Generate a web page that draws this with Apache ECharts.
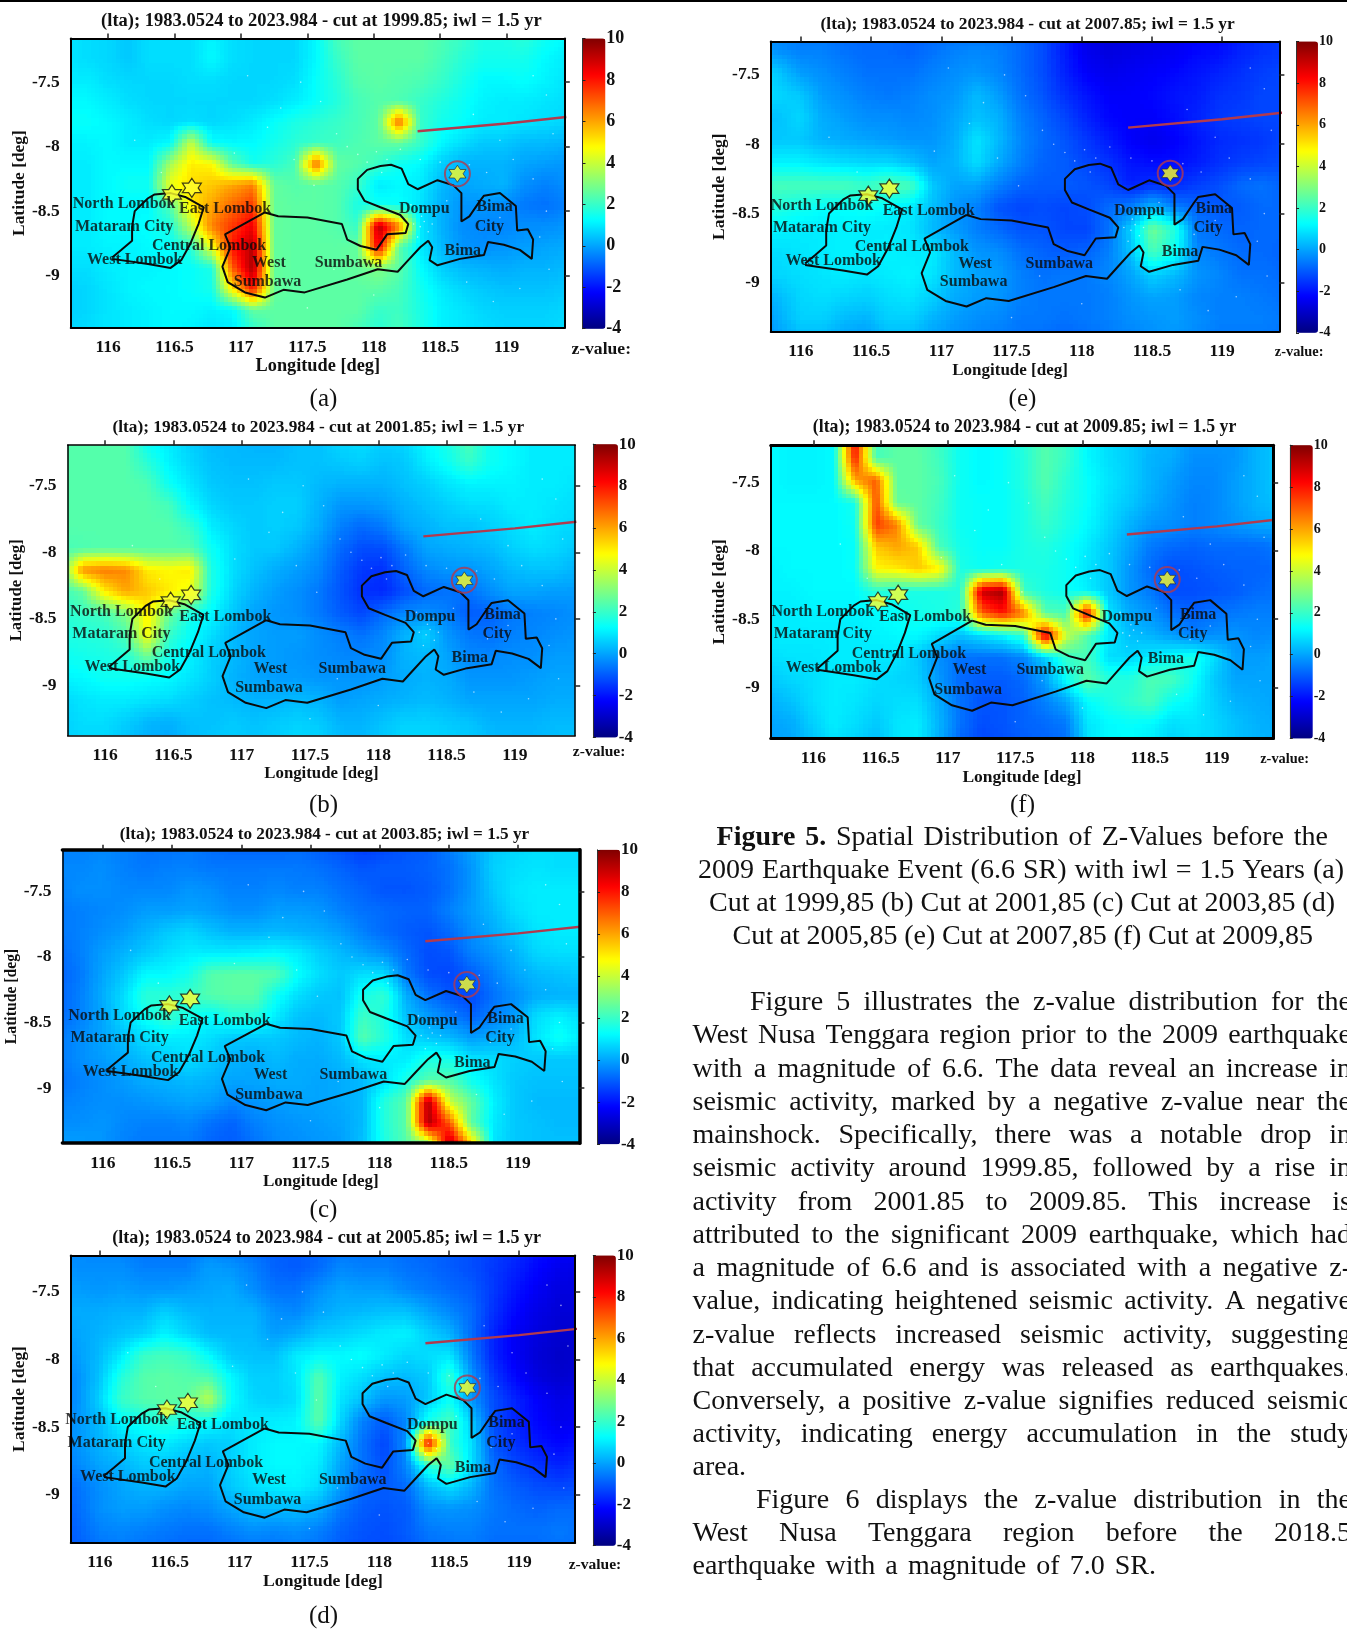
<!DOCTYPE html>
<html><head><meta charset="utf-8">
<style>html,body{margin:0;background:#fff}#c{width:1347px;height:1631px}</style>
<script src="https://cdn.jsdelivr.net/npm/echarts@6/dist/echarts.min.js"></script>
</head><body><div id="c"></div>
<script>
// ---------- data ----------
const lonNodes=[115.68,115.837,115.994,116.151,116.308,116.465,116.622,116.779,116.936,117.093,117.25,117.407,117.564,117.721,117.878,118.035,118.192,118.349,118.506,118.663,118.82,118.977,119.134,119.291,119.448];
const latNodes=[-7.16,-7.322,-7.484,-7.646,-7.808,-7.97,-8.132,-8.294,-8.456,-8.618,-8.78,-8.942,-9.104,-9.266,-9.428];
const lonTicks=[116,116.5,117,117.5,118,118.5,119];
const latTicks=[-7.5,-8,-8.5,-9];
const zA=[
[.9,.8,.7,.5,.8,.8,.8,1.1,.8,.7,.7,.7,1.2,2.2,2.5,2.5,2.5,2.5,2.3,2,1.6,1.6,1.8,1.4,1.2],
[.9,.8,.7,.5,.8,.8,.8,1.2,.8,.7,.7,.7,1.2,2,2.5,2.5,2.5,2.5,2.2,1.8,1.5,1.5,1.5,1.2,1],
[1,1,.8,.7,.7,.7,.8,.8,.7,.7,.7,.8,1.3,1.8,2.4,2.5,2.4,2.3,2,1.6,1.2,1.2,1.3,1.1,.9],
[1.2,1.2,1,.8,.7,.7,.7,.7,.7,.7,.8,1,1.3,1.7,2.2,2.4,2.3,2,1.7,1.4,1.1,1,1,.9,.8],
[1.3,1.3,1.2,1,.8,.7,.8,.7,.8,1,1.3,1.6,1.8,2,2.2,2.5,7,2,1.5,1.3,1,1,.9,.8,.7],
[1.1,1.1,1.2,1,1,1.2,4,1.3,1.2,1.2,1.5,1.8,2,2.1,2.3,2.5,2.6,2,1.2,.8,.5,.5,.3,.3,.2],
[1,1,1.2,1.2,1.2,3.5,5,4.8,2.5,1.5,1.8,2.2,7,2.6,2.4,2,1.4,1.2,.6,.2,.2,.2,0,-.1,-.2],
[1,1,1.2,1.4,1.4,4.5,5.2,5.5,6,6.5,2.6,2.4,2.5,2.4,2,1,1.2,1,.3,0,.1,.2,-.3,-.5,-.3],
[1,1,1.2,1.2,1.2,2.4,5,6,6.8,7.5,2.6,2.5,2.5,2.4,1.6,1.4,1.3,.9,.2,-.2,-.2,-.3,-.6,-.7,-.5],
[1,1,1.2,1.2,1.3,1.6,3.8,6.5,7.5,8.5,2.6,2.5,2.5,2.4,2,9.3,6.5,1,.2,-.3,-.4,-.4,-.3,-.3,-.2],
[1,1,1.1,1.1,1.2,1.3,1.8,4.5,8,9.3,2.6,2.5,2.5,2.5,2.6,8.5,2.5,1,.3,-.2,-.3,-.2,-.1,0,.1],
[.8,.8,1,1.1,1.1,1.2,1.3,1.6,7,9.5,2.6,2.5,2.5,2.5,2.6,3,2.5,1.3,.6,.3,.2,.1,.2,.2,.3],
[.6,.7,.9,1.1,1.2,1.2,1.3,1.5,5,8,2.6,2.5,2.5,2.5,2.5,2.5,2.2,1.5,1,.7,.5,.4,.4,.4,.5],
[.6,.7,.9,1,1.1,1.2,1.2,1.1,1.2,2.6,2.5,2.5,2.5,2.5,2.5,2,2.1,1.6,1.1,.9,.7,.6,.6,.6,.7],
[.7,.8,.9,1,1.1,1.2,1.1,.9,1,1.8,2.5,2.5,2.5,2.5,2.2,1.8,2.2,1.6,1.1,.9,.8,.7,.7,.7,.8]];
const zB=[
[2.4,2.4,2.4,2.4,1.3,1,.6,.3,.3,.2,.2,.4,.4,.7,.8,.6,.7,1.2,1.6,2.3,1.4,1.2,1,1,1],
[2.4,2.4,2.4,2.4,1.8,1.1,.7,.4,.3,.3,.3,.4,.4,.5,.6,.4,.5,1,1.4,2,1.4,1.2,1,1,1],
[2.4,2.4,2.4,2.4,2.3,1.4,.9,.5,.4,.4,.5,.5,.3,.2,.2,.2,.4,.6,.9,1.1,1.1,1.1,1,1,.9],
[2.4,2.4,2.4,2.4,2.4,2.2,1.2,.7,.5,.5,.6,.6,.2,-.2,-.2,-.1,.2,.4,.6,.8,.8,1,1,.9,.8],
[2.4,2.4,2.4,2.4,2.4,2.4,2,1,.7,.5,.6,.5,.1,-.5,-.8,-.6,0,.2,.4,.4,.6,.8,1,.8,.7],
[2.2,2.3,2.4,2.4,2.4,2.4,2.4,1.4,.8,.5,.5,.2,-.2,-.8,-1.2,-1.2,-.6,0,.1,.2,.3,.6,.8,.7,.5],
[2.4,6.3,6.6,6.4,5,4.8,5,1.6,.8,.4,.1,-.1,-.4,-1,-1.5,-1.6,-.9,-.4,-.2,-.2,0,.3,.4,.4,.2],
[2,2.6,5,6,5.5,5,4.5,1.6,.7,.2,-.1,-.3,-.6,-1.1,-1.6,-1.7,-1.2,-.8,-.7,-.7,-.3,0,0,-.1,-.1],
[1.8,2,2.2,3,5,2.8,1.6,1.2,.5,0,-.2,-.3,-.6,-1,-1.3,-.8,-.4,-.3,-.5,-1,-.9,-.6,-.5,-.4,-.3],
[1.6,1.7,1.8,2.3,4.8,2,1.3,.8,.3,0,-.1,-.1,-.3,-.5,-.7,-.4,.2,.6,-.2,-.6,-.7,-.5,-.4,-.3,-.2],
[1.4,1.5,1.6,1.7,2.8,1.5,1.1,.6,.3,0,-.1,-.2,-.3,-.4,-.4,-.3,.2,.3,0,-.4,-.4,-.3,-.3,-.1,-.1],
[1.1,1.2,1.4,1.4,1.3,1.2,.9,.6,.2,0,-.1,-.1,-.2,-.2,-.2,-.1,.1,.2,.1,-.2,-.2,-.2,-.1,0,0],
[.7,.9,1,1,.9,.8,.6,.4,.3,.2,.2,.3,.2,-.1,0,.1,.2,.3,.2,0,0,0,0,.1,.1],
[.6,.8,.8,.6,.3,.2,.4,.4,.5,.4,.5,.6,.5,.2,.2,.4,.6,.6,.5,.4,.2,.2,.2,.3,.3],
[.6,.7,.7,.4,.1,0,.3,.5,.6,.5,.6,.8,.7,.4,.3,.6,.8,.8,.7,.6,.4,.3,.3,.4,.5]];
const zC=[
[-.5,-.5,-.4,-.5,-.7,-.7,-.6,-.8,-.9,-.9,-.9,-.8,-1,-1.2,-1.5,-1.3,-1.1,-1,-.5,0,.5,.7,.8,.8,.8],
[-.4,-.4,-.3,-.5,-.6,-.5,-.5,-.6,-.6,-.6,-.6,-.6,-.7,-.9,-1.1,-1,-1,-.9,-.7,-.2,.6,.8,.9,.8,.8],
[-.5,-.3,-.3,-.4,-.4,-.4,-.2,-.3,-.5,-.5,-.4,-.5,-.5,-.7,-.9,-1.1,-1.1,-1,-.7,-.2,.5,.9,1,1,1],
[-.6,-.5,-.4,-.3,-.1,-.1,0,-.1,-.3,-.3,-.1,-.1,-.2,-.5,-.7,-.8,-.9,-.9,-.5,-.1,.3,.8,1,1,1],
[-.6,-.5,-.3,-.1,.2,.5,.7,.4,.2,.2,.3,.2,.1,-.1,-.5,-.8,-1,-1.1,-.8,-.3,.1,.5,.9,1,1],
[-.8,-.5,-.1,.2,.5,.8,1,1,1,1.1,1.2,1,.6,.3,0,-.3,-.8,-1.2,-1.1,-.5,-.2,.2,.7,.8,.8],
[-.9,-.6,0,.5,1.2,1.2,1.5,2.4,2.5,2.5,2.4,1.3,.8,.5,.8,.8,-.6,-1.2,-1.3,-1,-.5,0,.3,.4,.5],
[-.9,-.5,.1,.8,1.8,1.8,2,2.4,2.5,2.5,1.4,.8,.5,.4,1.5,1.9,.1,-.7,-1.1,-1.3,-.7,-.3,.1,.2,.2],
[-.8,-.5,0,.8,1.4,2,1.5,1.2,1.7,1.7,1,.4,.3,.5,2.1,1.6,.4,-.1,-.5,-.9,-.5,-.1,.8,1.1,.8],
[-.6,-.3,0,.4,.8,1,1,.8,.5,.5,.5,.3,.2,.5,2.4,1.7,.8,.5,.3,-.1,.1,.3,.9,1.4,1],
[-.6,-.3,-.1,.1,.4,.6,.8,.5,.2,.1,.3,.1,.1,.3,.9,1,1,1.6,1.5,.9,.8,.6,.5,.5,.5],
[-.7,-.5,-.3,-.1,.1,.2,.3,.2,0,0,.1,.1,0,.1,.3,.8,1.6,2.4,2.4,1.4,.9,.5,.4,.4,.4],
[-.5,-.4,-.3,-.3,-.2,-.1,0,-.1,-.4,-.2,-.1,0,0,.1,.3,1.7,2.5,9.5,4,2.6,1.1,.5,.3,.3,.3],
[-.3,-.3,-.2,-.4,-.5,-.5,-.4,-.7,-.9,-.5,-.3,-.2,-.1,0,.3,1.7,2.5,9.5,7,2.5,1,.5,.4,.3,.3],
[-.1,-.1,-.2,-.5,-.6,-.6,-.6,-.9,-1,-.7,-.4,-.3,-.2,-.1,.4,1.6,2.4,3,9.5,5.5,.9,.5,.4,.4,.4]];
const zD=[
[-.4,-.4,-.5,-.5,-.7,-.7,-.7,-.5,-.7,-.8,-1,-1,-.9,-.7,-.7,-.7,-.8,-.9,-1,-1.2,-1.4,-1.6,-2,-2.2,-2.3],
[-.2,-.3,-.3,-.3,-.5,-.5,-.5,-.1,-.2,-.5,-.9,-1,-.8,-.4,-.5,-.5,-.7,-.8,-1,-1.2,-1.5,-1.8,-2.2,-2.5,-2.6],
[-.1,-.1,-.2,-.1,-.2,-.2,-.1,0,.1,-.3,-.7,-.7,-.3,0,-.1,-.1,-.4,-.6,-.8,-1,-1.5,-2,-2.4,-2.7,-2.7],
[0,.1,.1,.2,.2,.6,.3,.2,.2,.2,-.3,-.4,0,.2,.3,.4,.4,0,-.4,-.8,-1.6,-2.2,-2.6,-2.8,-2.8],
[-.1,0,.2,.4,.6,1.1,.7,.3,.3,.3,-.1,.1,.5,.6,.8,1,1.1,.6,.2,-.8,-1.8,-2.4,-2.7,-2.9,-2.9],
[-.3,-.1,.3,1,2,2.2,2,1.2,.5,.4,.4,1,1.2,1.2,1.3,1,.7,.8,.9,-.6,-1.8,-2.4,-2.8,-3,-2.9],
[-.5,-.3,.4,1.7,2.4,2.5,2.4,2.3,1.2,.6,.6,.9,2.4,1.1,.8,.4,.3,.5,2,-.2,-1.5,-2.2,-2.7,-2.9,-2.8],
[-.6,-.3,.6,2,2.4,2.5,2.5,3.8,1.3,.7,.6,.8,2.5,.9,.4,-.2,-.1,.5,1.4,-.2,-1.2,-1.8,-2.3,-2.6,-2.5],
[-.5,-.2,.3,1.2,1.5,1.8,1.6,1.3,.9,1,1,1.1,2.5,.7,-.5,-1,-.4,1.5,2.2,.5,-1.2,-1.8,-2.2,-2.5,-2.4],
[-.5,-.2,.2,.6,.9,1,.7,.5,.6,1,1.2,1.2,1.2,.3,-.7,-1.3,-.3,8.5,2,.8,-1.1,-1.6,-2,-2.2,-2],
[-.7,-.4,0,.2,.5,.5,.3,.2,.6,1,1.2,1.2,1,0,-.7,-1.2,-.4,1.8,2.6,.8,-.8,-1.3,-1.6,-1.8,-1.6],
[-.9,-.7,-.3,0,.2,.2,0,0,.5,.8,1,1.1,.8,-.1,-.8,-1,-.8,.3,.8,.2,-.7,-1,-1.2,-1.3,-1.2],
[-1,-.8,-.3,-.1,-.1,-.3,-.4,-.3,0,.3,.3,.3,.1,-.6,-1,-1.1,-1,-.3,-.2,-.3,-.6,-.8,-.9,-.8,-.8],
[-1.1,-.9,-.5,-.4,-.5,-.6,-.7,-.7,-.5,-.3,-.4,-.3,-.5,-.9,-1.1,-1.2,-1,-.6,-.5,-.5,-.7,-.7,-.7,-.6,-.7],
[-1.2,-1,-.7,-.6,-.7,-.8,-.9,-.9,-.8,-.7,-.7,-.6,-.7,-1,-1.2,-1.2,-1.1,-.8,-.7,-.6,-.8,-.8,-.8,-.7,-.8]];
const zE=[
[-.4,-.5,-.6,-.6,-.8,-.9,-.8,-1,-.9,-.8,-.8,-.8,-.9,-1.2,-1.8,-2.6,-2.8,-2.7,-2.5,-2.5,-2.3,-2.3,-1.9,-1.6,-1.5],
[0,-.3,-.5,-.5,-.7,-.8,-.8,-.9,-.7,-.5,-.4,-.5,-.8,-1.2,-1.9,-2.5,-2.7,-2.6,-2.5,-2.4,-2.2,-2.1,-1.8,-1.6,-1.5],
[.8,.5,-.1,-.3,-.5,-.7,-.7,-.7,-.5,-.3,-.2,-.4,-.8,-1.2,-1.8,-2.3,-2.5,-2.4,-2.3,-2.2,-2,-1.8,-1.6,-1.4,-1.3],
[.9,.7,.5,-.1,-.3,-.5,-.6,-.5,-.3,-.2,.3,-.1,-.7,-1.1,-1.6,-2,-2.3,-2.3,-2.2,-2,-1.9,-1.6,-1.5,-1.3,-1.3],
[.4,.4,.7,.1,-.1,-.3,-.3,-.4,-.3,0,.4,.2,-.5,-.9,-1.3,-1.8,-2.2,-2.3,-2.3,-2.1,-1.8,-1.5,-1.4,-1.3,-1.3],
[.5,.5,.5,.2,.1,0,-.1,-.2,-.2,.1,.9,.3,-.4,-.8,-1.1,-1.5,-1.9,-2.3,-2.5,-2.3,-2,-1.7,-1.6,-1.5,-1.3],
[1,1.1,1.1,.9,.8,.7,.7,.4,0,.2,.8,.1,-.5,-.9,-1,-1.3,-1.6,-2,-2.1,-2.1,-1.9,-1.6,-1.4,-1.3,-1.2],
[2,2.2,2.2,2.2,2.2,2,2.4,2.2,.5,0,0,-.5,-.9,-1,-1,-1.1,-1.3,-1.8,-1.6,-1.7,-1.4,-1.2,-.8,-.7,-.9],
[1.7,1.7,1.5,1.3,1.3,1.4,1.2,1,.4,-.2,-.5,-1.1,-1.3,-1.2,-1.3,-1.2,-.8,-.5,.3,-.5,-.9,-1,-1,-.8,-.8],
[1.1,1.1,1,1,1.1,1,1,.9,.3,-.1,-.5,-.8,-1.1,-1.1,-1.3,-1.3,-.7,.6,2.8,1.7,-.6,-.8,-.9,-.8,-.8],
[.8,.8,.9,1,1.1,1,1.1,1,1,.3,-.2,-.3,-.7,-.9,-1,-.9,-.5,.4,2.2,1.4,-.4,-.6,-.8,-.8,-.9],
[.6,.7,.8,.9,1,.9,1,1.1,.9,.3,0,-.1,-.5,-.7,-.6,-.6,-.4,0,.6,.3,-.2,-.4,-.7,-.7,-.8],
[.1,.3,.7,.8,.7,.6,.8,.9,.6,.1,-.1,-.2,-.5,-.6,-.6,-.6,-.5,-.2,0,-.1,-.4,-.5,-.5,-.6,-.7],
[-.3,.1,.6,.6,.3,.2,.6,.6,.2,-.1,-.3,-.4,-.6,-.6,-.7,-.6,-.5,-.3,-.2,-.1,-.3,-.5,-.5,-.5,-.6],
[-.6,-.1,.2,.2,-.1,-.2,.2,.2,-.1,-.3,-.5,-.6,-.7,-.8,-.9,-.8,-.6,-.5,-.3,-.2,-.4,-.6,-.6,-.6,-.7]];
const zF=[
[1.2,1.1,1.1,1.2,8.5,2,2.5,2.5,2,1.4,1.2,1.3,1.8,2.4,2,1.2,.8,.6,.3,.2,-.2,-.2,-.2,.2,.5],
[1.2,1.1,1.1,1.2,8,2.2,2.5,2.5,2.1,1.4,1.2,1.3,1.7,2.4,2,1.2,.8,.6,.2,.1,-.3,-.3,-.2,.2,.5],
[1.2,1.1,1.1,1.2,6,7,2.5,2.5,2.2,1.4,1.2,1.3,1.7,2.4,1.8,1.3,.9,.6,.2,-.1,-.4,-.4,-.1,.2,.5],
[1.2,1.2,1.2,1.2,1.5,7.3,2.6,2.5,2.1,1.4,1.3,1.3,1.6,2.2,1.7,1.3,.8,.5,.1,-.2,-.5,-.4,-.1,.2,.4],
[1.2,1.2,1.2,1.2,1.4,7.5,6.5,2.6,2,1.4,1.3,1.3,1.6,2,1.6,1.2,.7,.2,-.2,-.3,-.5,-.4,-.2,0,.1],
[1.2,1.2,1.2,1.2,1.3,5.5,6,5.5,2.2,1.5,1.3,1.3,1.6,1.7,1.4,1,.5,0,-.6,-.8,-.9,-.8,-.8,-.8,-.6],
[1.1,1.2,1.2,1.2,1.3,4.8,5,5.5,5,1.6,1.4,1.5,1.6,1.6,1.4,.9,.5,-.2,-.8,-1.2,-1.1,-1,-.9,-.9,-.8],
[1.1,1.1,1.2,1.2,1.2,1.8,1.6,1.6,1.6,1.7,9,9.5,2,1.6,1.4,1.1,.5,-.2,-.6,-1.2,-1.2,-1.1,-1,-.8,-.7],
[1,1,1.1,1.1,1.1,1.2,1.3,1.5,1.6,1.8,7,8,6.5,2.4,2.2,8.5,.9,.1,-.2,-.7,-.9,-.7,-.6,-.5,-.5],
[1,1,1,1,1,1.1,1.2,1.2,.8,.4,.8,1.2,2,9,4,2.4,1,.4,.2,-.1,-.5,-.3,-.2,-.4,-.3],
[.8,.9,.9,1,1,.9,.9,.5,-.3,-.7,-.7,-.7,-.4,.6,2,2.2,.8,.7,1,1.3,1.6,.8,-.1,-.1,0],
[.5,.7,.8,1,1,.8,.7,.6,-.2,-.8,-1,-1,-.8,-.1,1.3,2.5,1.8,1.7,2.3,2.2,1.4,.5,0,0,0],
[.2,.4,.8,1,.9,.7,.8,.8,.1,-.7,-1.1,-1.1,-.9,-.5,0,1.2,1.6,1.9,2.2,1.4,1.1,.6,.2,.1,0],
[0,.1,.6,1,.8,.5,.9,1,.2,-.7,-1.2,-1.1,-.9,-.8,-.6,.9,1.2,1.3,1.2,.8,.9,.7,.4,.2,.1],
[-.1,0,.4,.8,.6,.3,.9,1,.1,-.9,-1.3,-1.2,-1,-.9,-.8,.8,1.2,1.2,1,.6,.8,.7,.4,.2,.2]];
const lombokLine=[[116.03,-8.86],[116.1,-8.8],[116.18,-8.73],[116.18,-8.62],[116.2,-8.5],[116.3,-8.4],[116.35,-8.37],[116.47,-8.36],[116.58,-8.39],[116.72,-8.47],[116.68,-8.6],[116.62,-8.75],[116.55,-8.88],[116.47,-8.94],[116.3,-8.91],[116.03,-8.87]];
const sumbawaLine=[[117.18,-8.51],[117.28,-8.54],[117.5,-8.55],[117.76,-8.6],[117.8,-8.72],[117.9,-8.77],[118.02,-8.8],[118.1,-8.68],[118.24,-8.67],[118.26,-8.6],[118.2,-8.53],[118.05,-8.47],[117.93,-8.42],[117.88,-8.33],[117.88,-8.25],[117.95,-8.18],[118.05,-8.15],[118.13,-8.14],[118.21,-8.17],[118.26,-8.29],[118.33,-8.33],[118.48,-8.26],[118.6,-8.3],[118.66,-8.36],[118.66,-8.58],[118.72,-8.54],[118.8,-8.42],[118.83,-8.38],[118.95,-8.36],[119.07,-8.46],[119.08,-8.65],[119.16,-8.64],[119.2,-8.72],[119.19,-8.87],[119.1,-8.8],[118.98,-8.76],[118.86,-8.74],[118.83,-8.84],[118.65,-8.87],[118.48,-8.92],[118.42,-8.88],[118.44,-8.78],[118.41,-8.73],[118.35,-8.78],[118.26,-8.88],[118.18,-8.97],[118.03,-8.95],[117.8,-9.03],[117.48,-9.13],[117.32,-9.11],[117.18,-9.17],[117.03,-9.13],[116.9,-9.05],[116.86,-8.93],[116.92,-8.78],[116.88,-8.68],[117.18,-8.51]];
const faultLine=[[118.33,-7.88],[119,-7.82],[119.45,-7.77]];
const hollowStars=[[116.48,-8.37],[116.63,-8.32]];
const mainStar=[[118.63,-8.21]];
const placeNames=[['North Lombok',116.12,-8.447],['East Lombok',116.88,-8.485],['Mataram City',116.12,-8.62],['Central Lombok',116.76,-8.77],['West Lombok',116.2,-8.88],['West',117.21,-8.9],['Sumbawa',117.2,-9.05],['Sumbawa',117.81,-8.9],['Dompu',118.38,-8.485],['Bima',118.91,-8.47],['City',118.87,-8.62],['Bima',118.67,-8.81]];
const epicentres=[[118.35,-8.62],[118.38,-8.58],[118.41,-8.66],[118.33,-8.7],[118.44,-8.6],[118.36,-8.54],[118.3,-8.6],[118.4,-8.5],[118.28,-8.45],[118.1,-8.1],[118.02,-8.04],[117.95,-8.12],[117.88,-8.06],[118.06,-8.2],[117.8,-8],[117.72,-7.9],[118.2,-8.02],[118.35,-8.1],[118.5,-8.12],[118.72,-8.14],[118.85,-8.2],[119.05,-8.1],[119.2,-8.25],[119.3,-8.5],[119.25,-8.7],[119.32,-8.95],[119.1,-9.1],[118.9,-9.2],[118.7,-9.05],[118.95,-8.55],[118.8,-8.65],[118.55,-8.42],[119.3,-7.6],[119.2,-7.45],[119.35,-7.9],[118.95,-7.95],[118.75,-7.75],[117.6,-7.65],[117.45,-7.5],[117.3,-7.7],[117.2,-7.85],[117.05,-7.45],[116.95,-8.05],[117.4,-8.1],[117.55,-8.3],[116.4,-8.2],[116.2,-7.95],[117.7,-8.95],[118,-9.15],[117.5,-9.25]];
const jetColors=['#000080','#0000ff','#0080ff','#00ffff','#80ff80','#ffff00','#ff8000','#ff0000','#800000'];
const titles=['(lta); 1983.0524 to 2023.984 - cut at 1999.85; iwl = 1.5 yr','(lta); 1983.0524 to 2023.984 - cut at 2001.85; iwl = 1.5 yr','(lta); 1983.0524 to 2023.984 - cut at 2003.85; iwl = 1.5 yr','(lta); 1983.0524 to 2023.984 - cut at 2005.85; iwl = 1.5 yr','(lta); 1983.0524 to 2023.984 - cut at 2007.85; iwl = 1.5 yr','(lta); 1983.0524 to 2023.984 - cut at 2009.85; iwl = 1.5 yr'];
const panelLetters=['(a)','(b)','(c)','(d)','(e)','(f)'];
const fields=[zA,zB,zC,zD,zE,zF];
const captionLines=[
 {x0:716.6,x1:1328,y:837.4,parts:[['Figure 5.',1],['Spatial Distribution of Z-Values before the',0]]},
 {x0:698,x1:1344,y:870.6,parts:[['2009 Earthquake Event (6.6 SR) with iwl = 1.5 Years (a)',0]]},
 {x0:709,x1:1335,y:904,parts:[['Cut at 1999,85 (b) Cut at 2001,85 (c) Cut at 2003,85 (d)',0]]},
 {x0:732.6,x1:1313,y:937,parts:[['Cut at 2005,85 (e) Cut at 2007,85 (f) Cut at 2009,85',0]]},
 {x0:750,x1:1351,y:1003,parts:[['Figure 5 illustrates the z-value distribution for the',0]]},
 {x0:692.5,x1:1351,y:1036,parts:[['West Nusa Tenggara region prior to the 2009 earthquake',0]]},
 {x0:692.5,x1:1351,y:1069.5,parts:[['with a magnitude of 6.6. The data reveal an increase in',0]]},
 {x0:692.5,x1:1351,y:1102.5,parts:[['seismic activity, marked by a negative z-value near the',0]]},
 {x0:692.5,x1:1351,y:1136,parts:[['mainshock. Specifically, there was a notable drop in',0]]},
 {x0:692.5,x1:1351,y:1169,parts:[['seismic activity around 1999.85, followed by a rise in',0]]},
 {x0:692.5,x1:1351,y:1202.5,parts:[['activity from 2001.85 to 2009.85. This increase is',0]]},
 {x0:692.5,x1:1351,y:1235.5,parts:[['attributed to the significant 2009 earthquake, which had',0]]},
 {x0:692.5,x1:1351,y:1269,parts:[['a magnitude of 6.6 and is associated with a negative z-',0]]},
 {x0:692.5,x1:1351,y:1302,parts:[['value, indicating heightened seismic activity. A negative',0]]},
 {x0:692.5,x1:1351,y:1335.5,parts:[['z-value reflects increased seismic activity, suggesting',0]]},
 {x0:692.5,x1:1351,y:1368.5,parts:[['that accumulated energy was released as earthquakes.',0]]},
 {x0:692.5,x1:1351,y:1402,parts:[['Conversely, a positive z-value signifies reduced seismic',0]]},
 {x0:692.5,x1:1351,y:1435,parts:[['activity, indicating energy accumulation in the study',0]]},
 {x0:692.5,x1:750,y:1468,parts:[['area.',0]]},
 {x0:756,x1:1351,y:1501,parts:[['Figure 6 displays the z-value distribution in the',0]]},
 {x0:692.5,x1:1351,y:1534,parts:[['West Nusa Tenggara region before the 2018.5',0]]},
 {x0:692.5,x1:1156,y:1567,parts:[['earthquake with a magnitude of 7.0 SR.',0]]}
];

// ---------- layout (in the 1295 wide view, scaled below) ----------
const S=1347/1295;
const layout=[
 {box:[68,543,37,315],xt:[104,487],yt:[79,265],cb:[560,582,37,316],tx:309,ty:20,ts:18.5,ns:18.3,ls:17.4,nameX:50,nameY:37,zx:578,zy:336,zs:17.6,cs:18,lx:311,ly:384,bw:2,bl:2,lk:1,ld:0},
 {box:[65,553,428,707],xt:[101,495],yt:[467,659],cb:[570,594,427,709],tx:306,ty:411,ts:17.3,ns:16.8,ls:16.8,nameX:50,nameY:36,zx:576,zy:723,zs:15.5,cs:17,lx:311,ly:774,bw:1.5,bl:1.5,lk:.95,ld:0},
 {box:[60,557,817,1099],xt:[99,498],yt:[857,1046],cb:[574,596,817,1100],tx:312,ty:802,ts:17.2,ns:17,ls:15.7,nameX:47,nameY:33,zx:0,zy:0,zs:0,cs:17,lx:311,ly:1164,bw:3.5,bl:1.5,lk:1,ld:0},
 {box:[68,553,1207,1483],xt:[96,499],yt:[1242,1437],cb:[570,592,1207,1486],tx:314,ty:1191,ts:18,ns:17.6,ls:17.4,nameX:50,nameY:37,zx:572,zy:1505,zs:15.5,cs:17,lx:311,ly:1554,bw:2,bl:2,lk:.98,ld:0},
 {box:[741,1230,40,319],xt:[770,1175],yt:[72,272],cb:[1246,1267,40,320],tx:988,ty:24,ts:17.4,ns:17,ls:17.5,nameX:47,nameY:34,zx:1249,zy:339,zs:14.4,cs:14,lx:983,ly:384,bw:2,bl:2,lk:.91,ld:.03,shift:30},
 {box:[741,1224,428,710],xt:[782,1170],yt:[464,661],cb:[1240,1262,428,710],tx:985,ty:411,ts:17.8,ns:17.5,ls:17.3,nameX:49,nameY:37,zx:1235,zy:730,zs:14.4,cs:14,lx:983,ly:774,bw:3,bl:2,lk:.94,ld:-.05}
];
const serif='"Liberation Serif","Times New Roman",serif';
const bold={fontFamily:serif,fontWeight:'bold',color:'#111'};

const colorCache={};
function jet(v){
  const t=Math.max(0,Math.min(1,(v+4)/14)), k=Math.round(t*400);
  return colorCache[k]||(colorCache[k]=echarts.color.lerp(k/400,jetColors));
}
const SUB=5;
function heatItem(field){
  return function(params,api){
    const i=api.value(3), j=api.value(4);
    if(i>=lonNodes.length-1||j>=latNodes.length-1) return null;
    const a=api.coord([lonNodes[i],latNodes[j]]), b=api.coord([lonNodes[i+1],latNodes[j+1]]);
    const cs=params.coordSys, cx0=cs.x, cx1=cs.x+cs.width, cy0=cs.y, cy1=cs.y+cs.height;
    const z00=field[j][i], z10=field[j][i+1], z01=field[j+1][i], z11=field[j+1][i+1];
    const kids=[];
    for(let m=0;m<SUB;m++){
      const x0=Math.max(cx0,Math.round(a[0]+(b[0]-a[0])*m/SUB)), x1=Math.min(cx1,Math.round(a[0]+(b[0]-a[0])*(m+1)/SUB));
      if(x1<=x0) continue;
      const u=(m+.5)/SUB;
      for(let n=0;n<SUB;n++){
        const y0=Math.max(cy0,Math.round(a[1]+(b[1]-a[1])*n/SUB)), y1=Math.min(cy1,Math.round(a[1]+(b[1]-a[1])*(n+1)/SUB));
        if(y1<=y0) continue;
        const w=(n+.5)/SUB, v=z00*(1-u)*(1-w)+z10*u*(1-w)+z01*(1-u)*w+z11*u*w;
        kids.push({type:'rect',shape:{x:x0,y:y0,width:x1-x0,height:y1-y0},style:{fill:jet(v)},silent:true});
      }
    }
    return {type:'group',children:kids};
  };
}

const grid=[],xAxis=[],yAxis=[],series=[],visualMap=[],title=[],elements=[];
elements.push({type:'rect',shape:{x:0,y:0,width:1347,height:2},style:{fill:'#000'},silent:true});
layout.forEach((p,k)=>{
  const [l,r,t,b]=p.box.map(v=>v*S), pxDeg=(p.xt[1]-p.xt[0])*S/3, pyDeg=(p.yt[1]-p.yt[0])*S/1.5;
  const xlo=116+(l-p.xt[0]*S)/pxDeg, xmax=116+(r-p.xt[0]*S)/pxDeg;
  const ymax=-7.5+(p.yt[0]*S-t)/pyDeg, ymin=-9-(b-p.yt[1]*S)/pyDeg;
  grid.push({left:l,top:t,width:r-l,height:b-t});
  const line={show:true,lineStyle:{color:'#000',width:p.bw}};
  const lineL={show:true,lineStyle:{color:'#000',width:p.bl}};
  const tick={show:true,length:5,inside:false,lineStyle:{color:'#222',width:1.5}};
  xAxis.push({gridIndex:2*k,type:'value',position:'bottom',min:xlo,max:xmax,z:6,splitLine:{show:false},axisLine:line,
    axisTick:{show:false,customValues:lonTicks},
    axisLabel:{customValues:lonTicks,margin:11,fontSize:17.5,...bold,formatter:v=>String(v),showMinLabel:true,showMaxLabel:true},
    name:'Longitude [deg]',nameLocation:'middle',nameGap:p.nameY*S-p.ns/2,nameTextStyle:{fontSize:p.ns,...bold,padding:p.shift?[0,p.shift,0,0]:0}});
  xAxis.push({gridIndex:2*k,type:'value',position:'top',min:xlo,max:xmax,z:6,splitLine:{show:false},axisLine:line,
    axisTick:{...tick,customValues:lonTicks},axisLabel:{show:false}});
  yAxis.push({gridIndex:2*k,type:'value',position:'left',min:ymin,max:ymax,z:6,splitLine:{show:false},axisLine:lineL,
    axisTick:{show:false,customValues:latTicks},
    axisLabel:{customValues:latTicks,margin:11,fontSize:17.5,...bold,formatter:v=>String(v)},
    name:'Latitude [deg]',nameLocation:'middle',nameRotate:90,nameGap:p.nameX*S-p.ls/2-1,nameTextStyle:{fontSize:p.ls,...bold}});
  yAxis.push({gridIndex:2*k,type:'value',position:'right',min:ymin,max:ymax,z:6,splitLine:{show:false},axisLine:line,
    axisTick:{...tick,customValues:latTicks},axisLabel:{show:false}});
  // colour bar axis
  const [cl,cr,ct,cb]=p.cb.map(v=>v*S);
  grid.push({left:cl,top:ct,width:cr-cl,height:cb-ct});
  xAxis.push({gridIndex:2*k+1,type:'value',show:false,min:0,max:1});
  yAxis.push({gridIndex:2*k+1,type:'value',position:'right',min:-4,max:10,interval:2,z:6,splitLine:{show:false},
    axisLine:{show:true,lineStyle:{color:'#333',width:1}},axisTick:{show:true,length:3,lineStyle:{color:'#222'}},
    axisLabel:{margin:1,fontSize:p.cs,...bold}});
  const on={xAxisIndex:3*k,yAxisIndex:3*k,animation:false,silent:true};
  const idx=series.length;
  const cells=[];
  fields[k].forEach((row,j)=>row.forEach((z,i)=>cells.push([lonNodes[i],latNodes[j],z,i,j])));
  series.push({...on,type:'custom',name:titles[k],data:cells,encode:{x:0,y:1},renderItem:heatItem(fields[k]),z:1,progressive:0});
  series.push({...on,type:'scatter',data:epicentres,symbolSize:1.6,itemStyle:{color:'#fff',opacity:.6},z:2});
  series.push({...on,type:'line',data:lombokLine,showSymbol:false,symbol:'none',lineStyle:{color:'#0a0a0a',width:2},z:3});
  series.push({...on,type:'line',data:sumbawaLine,showSymbol:false,symbol:'none',lineStyle:{color:'#0a0a0a',width:2},z:3});
  series.push({...on,type:'line',data:faultLine,showSymbol:false,symbol:'none',lineStyle:{color:'#b23a4e',width:2.4},z:3});
  const hexa='path://M0,-10 L2.9,-5 L8.66,-5 L5.77,0 L8.66,5 L2.9,5 L0,10 L-2.9,5 L-8.66,5 L-5.77,0 L-8.66,-5 L-2.9,-5Z';
  series.push({...on,type:'scatter',data:hollowStars,symbol:hexa,symbolSize:19,itemStyle:{color:'#ffff30',borderColor:'#111',borderWidth:1.2},z:4});
  series.push({...on,type:'scatter',data:mainStar,symbol:hexa,symbolSize:17,itemStyle:{color:'#ffff20',borderColor:'#223',borderWidth:.8},z:4});
  series.push({...on,type:'scatter',data:mainStar,symbol:'circle',symbolSize:25,itemStyle:{color:'rgba(0,0,0,0)',borderColor:'#b23a4e',borderWidth:2},z:4});
  series.push({...on,type:'scatter',data:placeNames.map(n=>({value:[n[1]+p.ld,-8.447+(n[2]+8.447)*p.lk],label:{formatter:n[0]}})),symbolSize:0,z:5,
    label:{show:true,position:'inside',fontSize:16,fontFamily:serif,fontWeight:'bold',color:'#0a0a0a'}});
  visualMap.push({type:'continuous',seriesIndex:idx,dimension:2,min:-4,max:10,calculable:false,realtime:false,
    left:cl,top:ct,itemWidth:cr-cl,itemHeight:cb-ct,text:['',''],showLabel:false,padding:0,hoverLink:false,
    inRange:{color:jetColors},outOfRange:{color:jetColors}});
  title.push({text:titles[k],left:p.tx*S,top:p.ty*S-p.ts/2,textAlign:'center',padding:0,textStyle:{fontSize:p.ts,...bold}});
  if(p.zs) elements.push({type:'text',x:p.zx*S,y:p.zy*S,z:10,silent:true,style:{text:'z-value:',align:'center',verticalAlign:'middle',font:'bold '+p.zs+'px '+serif,fill:'#111'}});
  elements.push({type:'text',x:p.lx*S,y:p.ly*S,z:10,silent:true,style:{text:panelLetters[k],align:'center',verticalAlign:'middle',font:'25px '+serif,fill:'#111'}});
});

// running text, one element per word so lines can be justified
const meas=document.createElement('canvas').getContext('2d');
const bodySize=28;
captionLines.forEach(L=>{
  const toks=[];
  L.parts.forEach(([s,b])=>s.split(' ').forEach(w=>toks.push({w,font:(b?'bold ':'')+bodySize+'px '+serif})));
  let sum=0; toks.forEach(t=>{meas.font=t.font;t.width=meas.measureText(t.w).width;sum+=t.width;});
  const gap=toks.length>1?(L.x1-L.x0-sum)/(toks.length-1):0;
  let x=L.x0;
  toks.forEach(t=>{
    elements.push({type:'text',x:x,y:L.y,silent:true,style:{text:t.w,align:'left',verticalAlign:'middle',font:t.font,fill:'#111'}});
    x+=t.width+gap;
  });
});

const chart=echarts.init(document.getElementById('c'),null,{renderer:'canvas',width:1347,height:1631});
chart.setOption({animation:false,backgroundColor:'#fff',title,grid,xAxis,yAxis,visualMap,series,graphic:{elements},tooltip:{show:false}});
</script></body></html>
